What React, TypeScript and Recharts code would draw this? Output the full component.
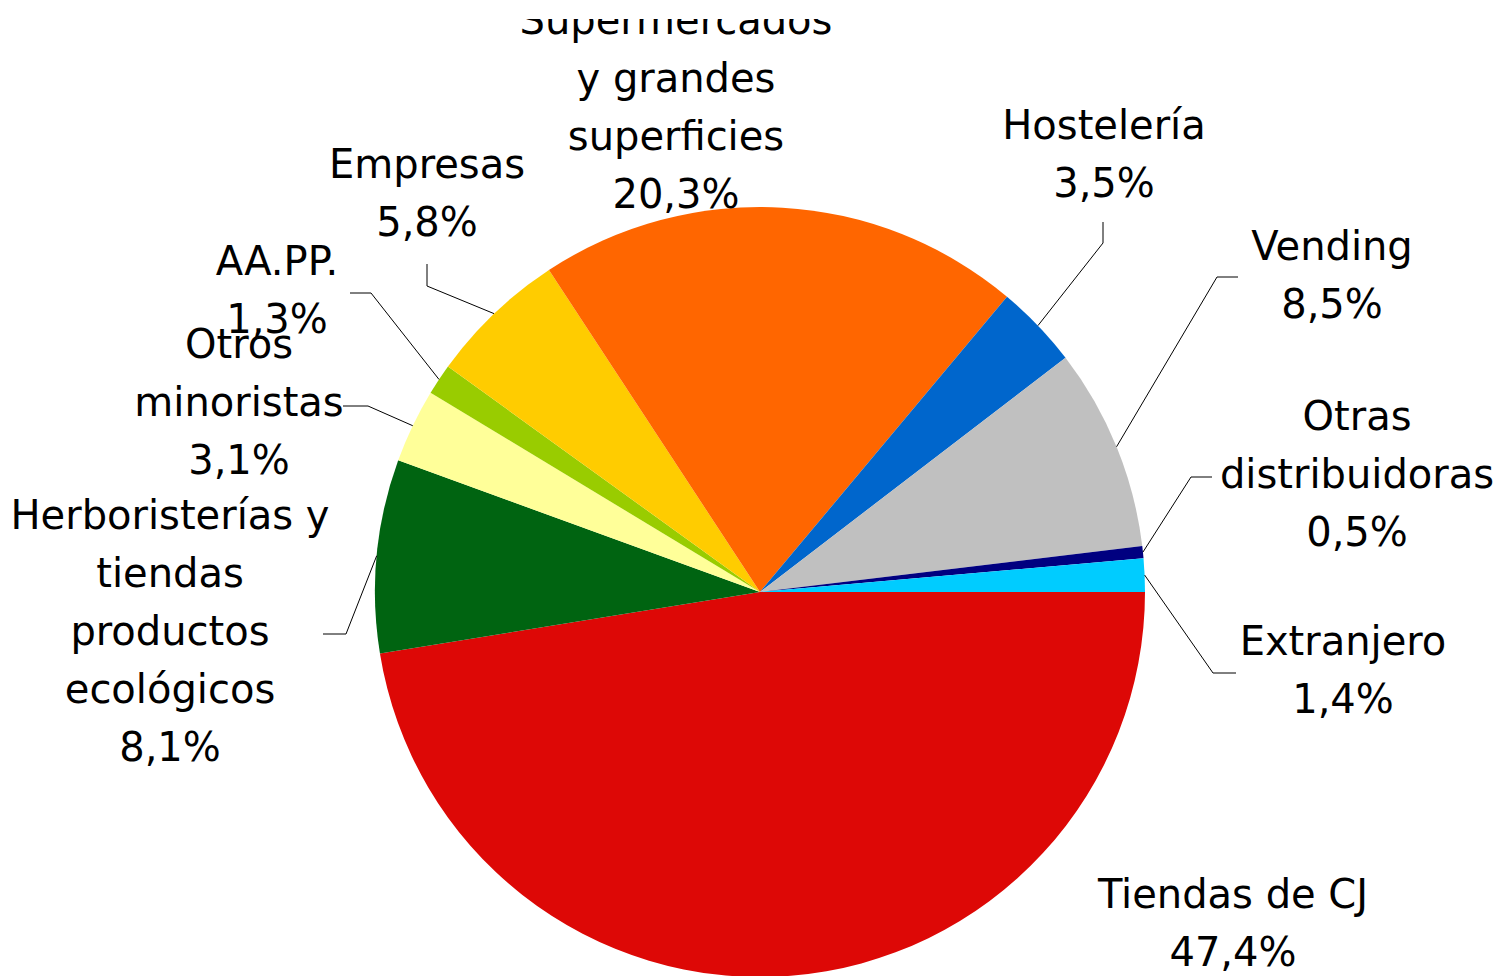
import React from 'react'
import { PieChart, Pie, Cell } from 'recharts'

// canales de venta, en el orden en que Excel los dibuja (desde las 3 en punto, sentido horario)
const categories = [
  'Tiendas de CJ',
  'Herboristerías y tiendas productos ecológicos',
  'Otros minoristas',
  'AA.PP.',
  'Empresas',
  'Supermercados y grandes superficies',
  'Hostelería',
  'Vending',
  'Otras distribuidoras',
  'Extranjero',
]
const shares = [47.4, 8.1, 3.1, 1.3, 5.8, 20.3, 3.5, 8.5, 0.5, 1.4]
const labelLines = [
  ['Tiendas de CJ'],
  ['Herboristerías y', 'tiendas', 'productos', 'ecológicos'],
  ['Otros', 'minoristas'],
  ['AA.PP.'],
  ['Empresas'],
  ['Supermercados', 'y grandes', 'superficies'],
  ['Hostelería'],
  ['Vending'],
  ['Otras', 'distribuidoras'],
  ['Extranjero'],
]
const colors = ['#DD0806', '#006411', '#FFFF99', '#99CC00', '#FFCC00', '#FF6600', '#0066CC', '#C0C0C0', '#000080', '#00CCFF']

const data = categories.map((name, i) => ({ name, value: shares[i] }))

// label placement relative to the pie centre: text (first baseline) + leader elbow/end
type LabelPos = { tx: number; ty: number; elbow?: [number, number]; end?: [number, number] }
const labelPos: LabelPos[] = [
  { tx: 473, ty: 316 },
  { tx: -590, ty: -63, elbow: [-414, 42], end: [-437, 42] },
  { tx: -521, ty: -234, elbow: [-392, -186], end: [-417, -186] },
  { tx: -483, ty: -317, elbow: [-389, -299], end: [-410, -299] },
  { tx: -333, ty: -414, elbow: [-333, -306], end: [-333, -328] },
  { tx: -84, ty: -558 },
  { tx: 344, ty: -453, elbow: [343, -349], end: [343, -370] },
  { tx: 572, ty: -332, elbow: [457, -315], end: [478, -315] },
  { tx: 597, ty: -162, elbow: [431, -115], end: [452, -115] },
  { tx: 583, ty: 63, elbow: [453, 81], end: [476, 81] },
]

const RADIAN = Math.PI / 180
const LINE_H = 58
const CLIP_TOP = 19

const fmt = (v: number) => v.toFixed(1).replace('.', ',') + '%'

const renderLabel = (props: any) => {
  const { cx, cy, midAngle, outerRadius, index } = props
  const pos = labelPos[index]
  const lines = [...labelLines[index], fmt(shares[index])]
  const sx = cx + outerRadius * Math.cos(-midAngle * RADIAN)
  const sy = cy + outerRadius * Math.sin(-midAngle * RADIAN)
  return (
    <g key={`lbl-${index}`}>
      {pos.elbow && pos.end && (
        <polyline
          points={`${sx},${sy} ${cx + pos.elbow[0]},${cy + pos.elbow[1]} ${cx + pos.end[0]},${cy + pos.end[1]}`}
          fill="none"
          stroke="#000"
          strokeWidth={1}
        />
      )}
      <text
        x={cx + pos.tx}
        y={cy + pos.ty}
        textAnchor="middle"
        fill="#000"
        fontFamily="'DejaVu Sans', sans-serif"
        fontSize={40}
      >
        {lines.map((l, i) => (
          <tspan key={i} x={cx + pos.tx} dy={i === 0 ? 0 : LINE_H}>
            {l}
          </tspan>
        ))}
      </text>
    </g>
  )
}

export default function App() {
  return (
    <div style={{ position: 'absolute', left: 0, top: CLIP_TOP, width: 1499, height: 976 - CLIP_TOP, background: '#fff' }}>
      <PieChart width={1499} height={976 - CLIP_TOP} margin={{ top: 0, right: 0, bottom: 0, left: 0 }}>
        <Pie
          data={data}
          dataKey="value"
          nameKey="name"
          cx={760}
          cy={592 - CLIP_TOP}
          outerRadius={385}
          startAngle={0}
          endAngle={-360}
          stroke="none"
          label={renderLabel}
          labelLine={false}
          isAnimationActive={false}
        >
          {data.map((d, i) => (
            <Cell key={d.name} fill={colors[i]} />
          ))}
        </Pie>
      </PieChart>
    </div>
  )
}
